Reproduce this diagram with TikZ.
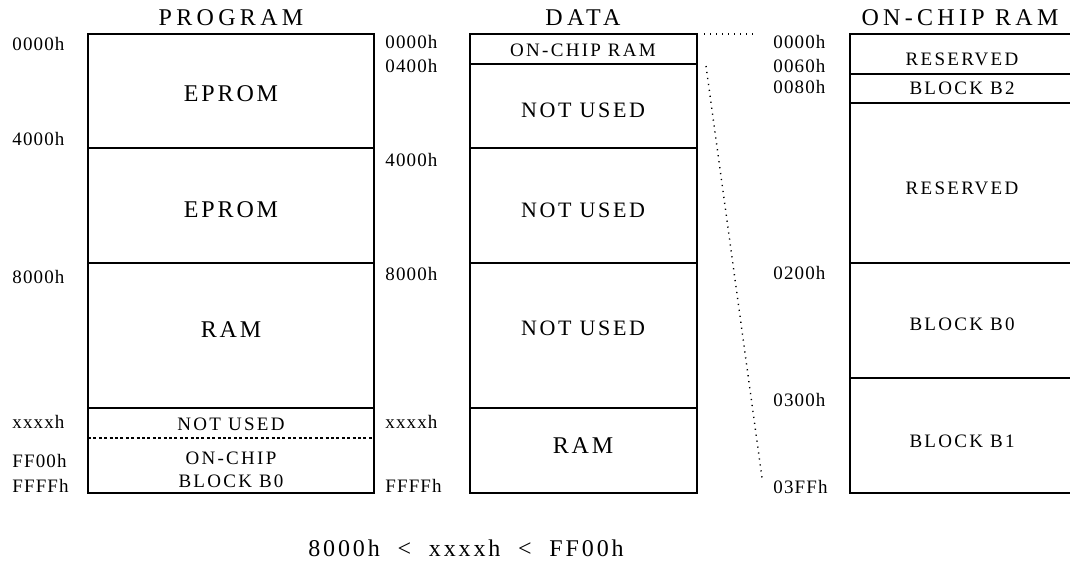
\documentclass[tikz,border=0pt]{standalone}
\usepackage{fontspec}
\setmainfont{Liberation Serif}
\newfontfamily\mapfont[LetterSpace=12]{Liberation Serif}
\newfontfamily\titlefont[LetterSpace=18]{Liberation Serif}
\newfontfamily\addrfont[LetterSpace=6]{Liberation Serif}

\tikzset{
  mapline/.style={line width=0.7pt},
  splitline/.style={line width=0.6pt,dash pattern=on 1.5pt off 1.2pt},
  linkline/.style={line width=0.7pt,dash pattern=on 0.6pt off 2.4pt},
  maptitle/.style={inner sep=0pt,font=\titlefont\fontsize{12}{14}\selectfont},
  bigarea/.style={inner sep=0pt,font=\mapfont\fontsize{12}{14}\selectfont},
  smallarea/.style={inner sep=0pt,align=center,font=\mapfont\fontsize{9.5}{11.5}\selectfont},
  addr/.style={anchor=west,inner sep=0pt,font=\addrfont\fontsize{9.5}{10}\selectfont}
}

\begin{document}
\begin{tikzpicture}[x=0.5pt,y=-0.5pt]
  \useasboundingbox (0,0) rectangle (1070,568);

  % PROGRAM map
  \node[maptitle] (progtitle) at (231,18) {PROGRAM};
  \draw[mapline] (88,34) rectangle (374,493);
  \foreach \y in {148,263,408}
    \draw[mapline] (88,\y) -- (374,\y);
  \draw[splitline] (88,438) -- (374,438);
  \node[bigarea] (progeprom) at (231,94) {EPROM};
  \node[bigarea] (progepromb) at (231,210) {EPROM};
  \node[bigarea] (program) at (231,330) {RAM};
  \node[smallarea] (prognotused) at (231,424) {NOT USED};
  \node[smallarea] (progblock) at (231,470) {ON-CHIP\\BLOCK B0};
  \node[addr] (pa0) at (12,44) {0000h};
  \node[addr] (pa1) at (12,139) {4000h};
  \node[addr] (pa2) at (12,277) {8000h};
  \node[addr] (pa3) at (12,422) {xxxxh};
  \node[addr] (pa4) at (12,461) {FF00h};
  \node[addr] (pa5) at (12,486) {FFFFh};

  % DATA map
  \node[maptitle] (datatitle) at (583,18) {DATA};
  \draw[mapline] (470,34) rectangle (697,493);
  \foreach \y in {64,148,263,408}
    \draw[mapline] (470,\y) -- (697,\y);
  \node[smallarea] (dataonchip) at (583,50) {ON-CHIP RAM};
  \node[bigarea,font=\mapfont\fontsize{11}{13}\selectfont] (dataunused) at (583,110) {NOT USED};
  \node[bigarea,font=\mapfont\fontsize{11}{13}\selectfont] (dataunusedb) at (583,210) {NOT USED};
  \node[bigarea,font=\mapfont\fontsize{11}{13}\selectfont] (dataunusedc) at (583,328) {NOT USED};
  \node[bigarea] (dataram) at (583,446) {RAM};
  \node[addr] (da0) at (385,42) {0000h};
  \node[addr] (da1) at (385,66) {0400h};
  \node[addr] (da2) at (385,160) {4000h};
  \node[addr] (da3) at (385,274) {8000h};
  \node[addr] (da4) at (385,422) {xxxxh};
  \node[addr] (da5) at (385,486) {FFFFh};

  % ON-CHIP RAM map
  \node[maptitle] (chiptitle) at (960,18) {ON-CHIP RAM};
  \draw[mapline] (1070,34) -- (850,34) -- (850,493) -- (1070,493);
  \foreach \y in {74,103,263,378}
    \draw[mapline] (850,\y) -- (1070,\y);
  \node[smallarea] (chipres) at (962,59) {RESERVED};
  \node[smallarea] (chipbtwo) at (962,88) {BLOCK B2};
  \node[smallarea] (chipresb) at (962,188) {RESERVED};
  \node[smallarea] (chipbzero) at (962,324) {BLOCK B0};
  \node[smallarea] (chipbone) at (962,441) {BLOCK B1};
  \node[addr] (ca0) at (773,42) {0000h};
  \node[addr] (ca1) at (773,66) {0060h};
  \node[addr] (ca2) at (773,87) {0080h};
  \node[addr] (ca3) at (773,273) {0200h};
  \node[addr] (ca4) at (773,400) {0300h};
  \node[addr] (ca5) at (773,487) {03FFh};

  % expansion of the on-chip block
  \coordinate (linktop) at (704,34);
  \coordinate (linktopend) at (757,34);
  \coordinate (linkside) at (706,66);
  \coordinate (linksideend) at (762,478);
  \draw[linkline] (linktop) -- (linktopend);
  \draw[linkline] (linkside) -- (linksideend);

  % range note
  \node[inner sep=0pt,font=\mapfont\fontsize{12}{14}\selectfont] (rangenote) at (466,548)
    {8000h~~<~~xxxxh~~<~~FF00h};
\end{tikzpicture}
\end{document}
